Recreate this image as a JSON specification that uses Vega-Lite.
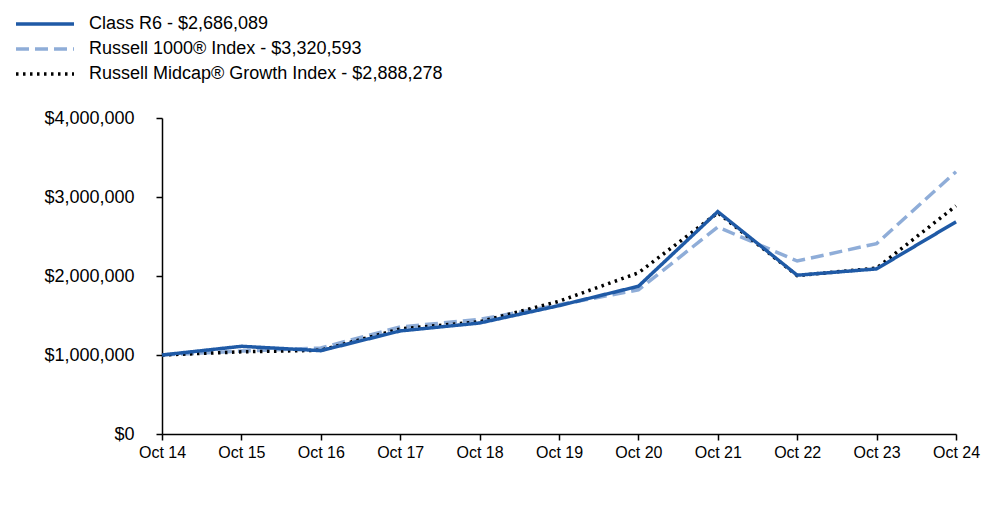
{
  "$schema": "https://vega.github.io/schema/vega-lite/v6.json",
  "width": 794,
  "height": 316,
  "autosize": {"type": "none"},
  "padding": {"left": 162, "top": 118, "right": 44, "bottom": 89},
  "background": "white",
  "config": {"view": {"stroke": null}, "font": "Liberation Sans"},
  "data": {"values": [
    {"year": "Oct 14", "series": "Class R6 - $2,686,089", "value": 1000000},
    {"year": "Oct 15", "series": "Class R6 - $2,686,089", "value": 1110000},
    {"year": "Oct 16", "series": "Class R6 - $2,686,089", "value": 1055000},
    {"year": "Oct 17", "series": "Class R6 - $2,686,089", "value": 1305000},
    {"year": "Oct 18", "series": "Class R6 - $2,686,089", "value": 1405000},
    {"year": "Oct 19", "series": "Class R6 - $2,686,089", "value": 1625000},
    {"year": "Oct 20", "series": "Class R6 - $2,686,089", "value": 1870000},
    {"year": "Oct 21", "series": "Class R6 - $2,686,089", "value": 2815000},
    {"year": "Oct 22", "series": "Class R6 - $2,686,089", "value": 2010000},
    {"year": "Oct 23", "series": "Class R6 - $2,686,089", "value": 2090000},
    {"year": "Oct 24", "series": "Class R6 - $2,686,089", "value": 2686089},
    {"year": "Oct 14", "series": "Russell 1000® Index - $3,320,593", "value": 1000000},
    {"year": "Oct 15", "series": "Russell 1000® Index - $3,320,593", "value": 1050000},
    {"year": "Oct 16", "series": "Russell 1000® Index - $3,320,593", "value": 1090000},
    {"year": "Oct 17", "series": "Russell 1000® Index - $3,320,593", "value": 1355000},
    {"year": "Oct 18", "series": "Russell 1000® Index - $3,320,593", "value": 1450000},
    {"year": "Oct 19", "series": "Russell 1000® Index - $3,320,593", "value": 1635000},
    {"year": "Oct 20", "series": "Russell 1000® Index - $3,320,593", "value": 1825000},
    {"year": "Oct 21", "series": "Russell 1000® Index - $3,320,593", "value": 2620000},
    {"year": "Oct 22", "series": "Russell 1000® Index - $3,320,593", "value": 2190000},
    {"year": "Oct 23", "series": "Russell 1000® Index - $3,320,593", "value": 2410000},
    {"year": "Oct 24", "series": "Russell 1000® Index - $3,320,593", "value": 3320593},
    {"year": "Oct 14", "series": "Russell Midcap® Growth Index - $2,888,278", "value": 1000000},
    {"year": "Oct 15", "series": "Russell Midcap® Growth Index - $2,888,278", "value": 1040000},
    {"year": "Oct 16", "series": "Russell Midcap® Growth Index - $2,888,278", "value": 1060000},
    {"year": "Oct 17", "series": "Russell Midcap® Growth Index - $2,888,278", "value": 1330000},
    {"year": "Oct 18", "series": "Russell Midcap® Growth Index - $2,888,278", "value": 1420000},
    {"year": "Oct 19", "series": "Russell Midcap® Growth Index - $2,888,278", "value": 1680000},
    {"year": "Oct 20", "series": "Russell Midcap® Growth Index - $2,888,278", "value": 2040000},
    {"year": "Oct 21", "series": "Russell Midcap® Growth Index - $2,888,278", "value": 2800000},
    {"year": "Oct 22", "series": "Russell Midcap® Growth Index - $2,888,278", "value": 2005000},
    {"year": "Oct 23", "series": "Russell Midcap® Growth Index - $2,888,278", "value": 2100000},
    {"year": "Oct 24", "series": "Russell Midcap® Growth Index - $2,888,278", "value": 2888278}
  ]},
  "encoding": {
    "x": {
      "field": "year", "type": "ordinal",
      "scale": {"type": "point", "padding": 0},
      "sort": null,
      "axis": {"title": null, "labelAngle": 0, "labelFontSize": 16, "labelColor": "#000", "labelPadding": 4, "tickSize": 6, "tickColor": "#000", "domainColor": "#000", "domainWidth": 1.5, "tickWidth": 1.5, "grid": false}
    },
    "y": {
      "field": "value", "type": "quantitative",
      "scale": {"domain": [0, 4000000], "nice": false},
      "axis": {"title": null, "values": [0, 1000000, 2000000, 3000000, 4000000], "format": "$,.0f", "labelFontSize": 18, "labelColor": "#000", "labelPadding": 22, "tickSize": 6, "tickColor": "#000", "domainColor": "#000", "domainWidth": 1.5, "tickWidth": 1.5, "grid": false}
    },
    "color": {
      "field": "series", "type": "nominal", "sort": null,
      "scale": {"domain": ["Class R6 - $2,686,089", "Russell 1000® Index - $3,320,593", "Russell Midcap® Growth Index - $2,888,278"], "range": ["#1f5aa6", "#8fadd8", "#000000"]},
      "legend": {"title": null, "orient": "none", "legendX": -129, "legendY": -106, "symbolType": "M-2.9,0H2.9", "symbolSize": 400, "labelFontSize": 18, "labelColor": "#000", "labelOffset": 32, "rowPadding": 4, "labelLimit": 500}
    },
    "strokeDash": {
      "field": "series", "type": "nominal", "sort": null,
      "scale": {"domain": ["Class R6 - $2,686,089", "Russell 1000® Index - $3,320,593", "Russell Midcap® Growth Index - $2,888,278"], "range": [[1, 0], [13, 6], [2.5, 4.5]]}
    },
    "strokeWidth": {
      "field": "series", "type": "nominal", "sort": null,
      "scale": {"domain": ["Class R6 - $2,686,089", "Russell 1000® Index - $3,320,593", "Russell Midcap® Growth Index - $2,888,278"], "range": [3.5, 3.5, 1.7]}
    }
  },
  "layer": [
    {
      "transform": [{"filter": "datum.series !== 'Class R6 - $2,686,089'"}],
      "mark": {"type": "line", "strokeCap": "butt", "strokeJoin": "miter"}
    },
    {
      "transform": [{"filter": "datum.series === 'Class R6 - $2,686,089'"}],
      "mark": {"type": "line", "strokeCap": "butt", "strokeJoin": "miter"}
    }
  ]
}
